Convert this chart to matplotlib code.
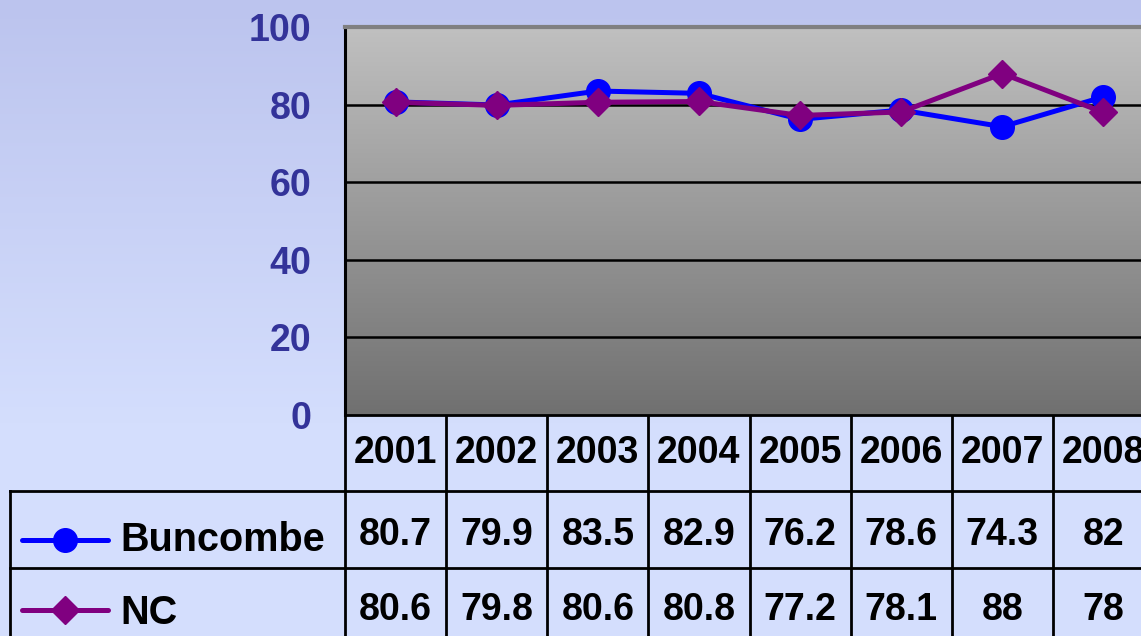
import numpy as np
import matplotlib
matplotlib.use("Agg")
import matplotlib.pyplot as plt
from matplotlib import transforms

plt.rcParams['font.family'] = ['Liberation Sans', 'DejaVu Sans']
plt.rcParams['font.weight'] = 'bold'

years = ["2001", "2002", "2003", "2004", "2005", "2006", "2007", "2008"]
buncombe = [80.7, 79.9, 83.5, 82.9, 76.2, 78.6, 74.3, 82]
nc = [80.6, 79.8, 80.6, 80.8, 77.2, 78.1, 88, 78]
buncombe_txt = ["80.7", "79.9", "83.5", "82.9", "76.2", "78.6", "74.3", "82"]
nc_txt = ["80.6", "79.8", "80.6", "80.8", "77.2", "78.1", "88", "78"]
yticks = [0, 20, 40, 60, 80, 100]

BLUE = '#0000FF'
PURPLE = '#800080'
TICK_COLOR = '#333399'

W, H = 1141, 636
fig = plt.figure(figsize=(W / 100, H / 100), dpi=100)

# фон всей картинки (пиксельные координаты)
bg = fig.add_axes([0, 0, 1, 1], zorder=0)
bg.set_xlim(0, W)
bg.set_ylim(H, 0)
bg.axis('off')
top_c = np.array([188, 196, 238]) / 255
bot_c = np.array([212, 222, 253]) / 255
t = np.clip(np.linspace(0, 1, 200) * 1.5, 0, 1)[:, None]
grad = top_c[None, :] * (1 - t) + bot_c[None, :] * t
bg.imshow(grad[:, None, :], extent=[0, W, H, 0], aspect='auto', zorder=0)

# область графика
left, top, bottom, right = 345, 27, 415, 1154
ax = fig.add_axes([left / W, 1 - bottom / H, (right - left) / W, (bottom - top) / H], zorder=2)
x = np.arange(len(years))
ax.set_xlim(-0.5, len(years) - 0.5)
ax.set_ylim(0, 100)

g = np.linspace(192, 112, 200) / 255
ax.imshow(np.repeat(g[:, None, None], 3, axis=2), extent=[-0.5, len(years) - 0.5, 0, 100],
          aspect='auto', zorder=0)
for yv in yticks[1:-1]:
    ax.axhline(yv, color='black', lw=1.8, zorder=1)

ax.plot(x, buncombe, color=BLUE, lw=3.6, marker='o', markersize=17, zorder=3, clip_on=False)
ax.plot(x, nc, color=PURPLE, lw=3.6, marker='D', markersize=14.5, zorder=4, clip_on=False)

ax.set_yticks(yticks)
ax.set_yticklabels([str(v) for v in yticks], color=TICK_COLOR, fontsize=27, fontweight='bold')
ax.tick_params(axis='y', length=0, pad=24)
ax.set_xticks([])
ax.spines['left'].set_color('black')
ax.spines['left'].set_linewidth(2.2)
ax.spines['bottom'].set_color('black')
ax.spines['bottom'].set_linewidth(2.0)
ax.spines['top'].set_color('#808080')
ax.spines['top'].set_linewidth(3)
ax.spines['right'].set_color('#808080')

# таблица данных под графиком
tr = transforms.blended_transform_factory(ax.transData, bg.transData)
cells = dict(ha='center', va='baseline', fontsize=27, fontweight='bold', color='black', transform=tr)
for i in range(len(years)):
    bg.text(x[i], 463, years[i], **cells)
    bg.text(x[i], 545, buncombe_txt[i], **cells)
    bg.text(x[i], 620, nc_txt[i], **cells)
for i in range(len(years) + 1):
    bg.plot([i - 0.5, i - 0.5], [bottom, H], color='black', lw=2, transform=tr, zorder=1)
bg.plot([10, W], [491, 491], color='black', lw=2, zorder=1)
bg.plot([10, W], [568, 568], color='black', lw=2, zorder=1)
bg.plot([10, 10], [491, H], color='black', lw=2, zorder=1)

# ключи легенды в таблице
bg.plot([22, 65, 108], [540, 540, 540], color=BLUE, lw=3.6, marker='o', markersize=17,
        markevery=[1], solid_capstyle='round', zorder=2)
bg.plot([22, 65, 108], [610, 610, 610], color=PURPLE, lw=3.6, marker='D', markersize=14.5,
        markevery=[1], solid_capstyle='round', zorder=2)
bg.text(120, 551, "Buncombe", ha='left', va='baseline', fontsize=28.5, fontweight='bold')
bg.text(120, 624, "NC", ha='left', va='baseline', fontsize=28.5, fontweight='bold')

plt.savefig("out.png", dpi=100)
plt.close()
